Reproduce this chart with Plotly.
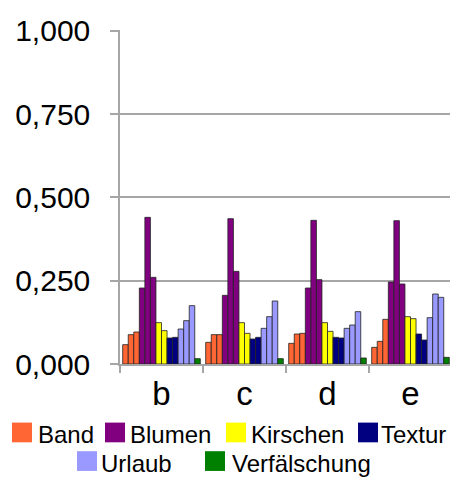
import plotly.graph_objects as go

categories = ["b", "c", "d", "e"]

# Each series has several bars per category (values per category b, c, d, e)
band_values = [
    [0.058, 0.065, 0.062, 0.050],
    [0.088, 0.088, 0.090, 0.068],
    [0.096, 0.088, 0.092, 0.134],
]
blumen_values = [
    [0.228, 0.206, 0.228, 0.246],
    [0.440, 0.436, 0.431, 0.430],
    [0.260, 0.278, 0.253, 0.240],
]
kirschen_values = [
    [0.124, 0.124, 0.124, 0.142],
    [0.100, 0.092, 0.098, 0.136],
]
textur_values = [
    [0.078, 0.075, 0.080, 0.090],
    [0.080, 0.080, 0.078, 0.072],
]
urlaub_values = [
    [0.105, 0.107, 0.107, 0.139],
    [0.130, 0.142, 0.117, 0.210],
    [0.175, 0.189, 0.157, 0.200],
]
verfaelschung_values = [
    [0.016, 0.016, 0.018, 0.020],
]

series_names = ["Band", "Blumen", "Kirschen", "Textur", "Urlaub", "Verfälschung"]
series_values = [band_values, blumen_values, kirschen_values,
                 textur_values, urlaub_values, verfaelschung_values]
series_colors = ["#FF6633", "#800080", "#FFFF00", "#000080", "#9999FF", "#008000"]

y_ticks = [0, 0.25, 0.5, 0.75, 1.0]

FONT = "Liberation Sans, Arial, sans-serif"
GRID = "#A6A6A6"

fig = go.Figure()
for name, groups, color in zip(series_names, series_values, series_colors):
    for i, vals in enumerate(groups):
        fig.add_trace(go.Bar(
            x=categories, y=vals, name=name, legendgroup=name,
            showlegend=False,
            marker=dict(color=color, line=dict(color="#222222", width=0.8)),
        ))

# Page offset (browser body margin) and geometry, in screen pixels
OFF = 8
W, H = 458 - OFF, 478 - OFF
PLOT_L, PLOT_R, PLOT_T, PLOT_B = 120, 452, 25, 363.6
ML = PLOT_L - OFF
MR = W - (PLOT_R - OFF)
MT = PLOT_T - OFF
MB = H - (PLOT_B - OFF)
PW = W - ML - MR
PH = H - MT - MB


def px_to_paper_x(px):
    return (px - PLOT_L) / PW


def px_to_paper_y(py):
    return (PLOT_B - py) / PH


# Manual legend layout: (square left x, text left x, row center y) in screen pixels
legend_layout = [
    (12, 36, 433),
    (105, 128, 433),
    (226, 249, 433),
    (358, 379, 433),
    (77, 99, 462),
    (205, 230, 462),
]
SQ = 20
shapes = []
annotations = []
for name, color, (sx, tx, cy) in zip(series_names, series_colors, legend_layout):
    shapes.append(dict(
        type="rect", xref="paper", yref="paper",
        x0=px_to_paper_x(sx), x1=px_to_paper_x(sx + SQ),
        y0=px_to_paper_y(cy + SQ / 2), y1=px_to_paper_y(cy - SQ / 2),
        fillcolor=color, line=dict(width=0),
    ))
    annotations.append(dict(
        text=name, xref="paper", yref="paper",
        x=px_to_paper_x(tx), y=px_to_paper_y(cy + 2),
        xanchor="left", yanchor="middle", showarrow=False,
        font=dict(family=FONT, size=24, color="black"),
    ))

fig.update_layout(
    width=W, height=H,
    margin=dict(l=ML, r=MR, t=MT, b=MB, pad=0),
    paper_bgcolor="white", plot_bgcolor="white",
    barmode="group", bargap=0.065, bargroupgap=0,
    separators=",.",
    showlegend=False,
    font=dict(family=FONT, color="black"),
    shapes=shapes, annotations=annotations,
)
fig.update_xaxes(
    type="category", tickson="boundaries", ticks="outside", ticklen=7,
    tickcolor=GRID, tickwidth=1.5, showline=True, linecolor=GRID, linewidth=1.5,
    showgrid=False, tickfont=dict(family=FONT, size=33, color="black"),
)
fig.update_yaxes(
    range=[0, 1.002], tickvals=y_ticks, tickformat=".3f",
    ticks="outside", ticklen=8, tickcolor=GRID, tickwidth=1.5,
    showline=True, linecolor=GRID, linewidth=1.5,
    showgrid=True, gridcolor=GRID, gridwidth=1.5, zeroline=False,
    tickfont=dict(family=FONT, size=30, color="black"),
    ticklabelstandoff=14,
)

fig.write_html("out.html")
